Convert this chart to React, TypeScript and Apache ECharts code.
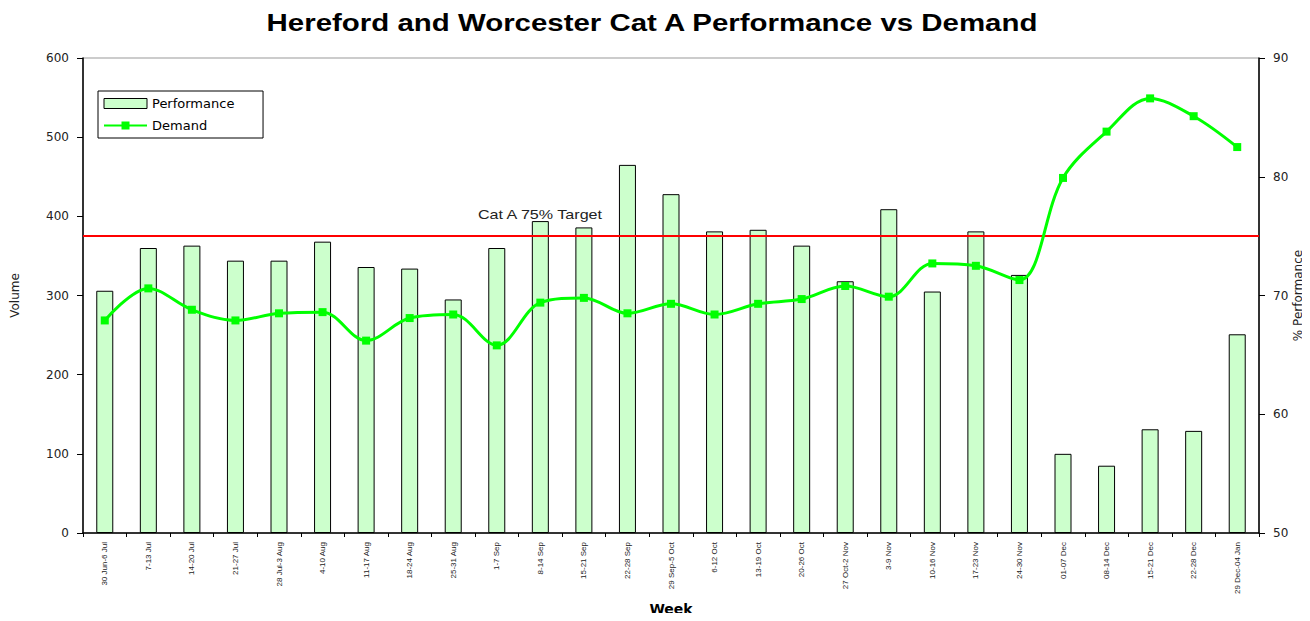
import React, { useEffect, useRef } from "react";
import * as echarts from "echarts";

const weeks = [
  "30 Jun-6 Jul", "7-13 Jul", "14-20 Jul", "21-27 Jul", "28 Jul-3 Aug", "4-10 Aug",
  "11-17 Aug", "18-24 Aug", "25-31 Aug", "1-7 Sep", "8-14 Sep", "15-21 Sep",
  "22-28 Sep", "29 Sep-5 Oct", "6-12 Oct", "13-19 Oct", "20-26 Oct", "27 Oct-2 Nov",
  "3-9 Nov", "10-16 Nov", "17-23 Nov", "24-30 Nov", "01-07 Dec", "08-14 Dec",
  "15-21 Dec", "22-28 Dec", "29 Dec-04 Jan",
];

const performance = [
  306, 360, 363, 344, 344, 368, 336, 334, 295, 360, 394, 386, 465, 428, 381, 383,
  363, 318, 409, 305, 381, 326, 100, 85, 131, 129, 251,
];

const demand = [
  67.9, 70.6, 68.8, 67.9, 68.5, 68.6, 66.2, 68.1, 68.4, 65.8, 69.4, 69.8, 68.5, 69.3,
  68.4, 69.3, 69.7, 70.8, 69.9, 72.7, 72.5, 71.3, 79.9, 83.8, 86.6, 85.1, 82.5,
];

const target = 75;
const titleText = "Hereford and Worcester Cat A Performance vs Demand";
const targetLabel = "Cat A 75% Target";

export default function App() {
  const ref = useRef<HTMLDivElement>(null);
  useEffect(() => {
    if (!ref.current) return;
    const chart = echarts.init(ref.current, undefined, { renderer: "svg" });
    const font = "Liberation Sans, Arial, sans-serif";
    const wide = "DejaVu Sans, sans-serif";
    chart.setOption({
      animation: false,
      textStyle: { fontFamily: font },
      legend: {
        left: 98,
        top: 91,
        orient: "vertical",
        padding: [6, 8, 6, 5],
        itemGap: 9,
        itemWidth: 43,
        itemHeight: 10,
        backgroundColor: "#fff",
        borderColor: "#000",
        borderWidth: 1,
        borderRadius: 0,
        formatter: (name: string) => name + "     ",
        textStyle: { fontSize: 13, color: "#000", fontFamily: wide },
        data: [
          { name: "Performance", icon: "rect", itemStyle: { borderWidth: 1, borderColor: "#000", color: "#ccffcc" } },
          { name: "Demand" },
        ],
      },
      grid: {
        left: 83,
        right: 1310 - 1259,
        top: 58,
        bottom: 621 - 533,
        containLabel: false,
        outerBoundsMode: "none",
        show: true,
        borderColor: "#999",
        borderWidth: 1,
      },
      xAxis: {
        type: "category",
        data: weeks,
        name: "Week",
        nameLocation: "middle",
        nameGap: 69,
        nameMoveOverlap: false,
        nameTextStyle: { fontSize: 14, fontWeight: "bold", color: "#000", fontFamily: wide },
        axisLine: { lineStyle: { color: "#000", width: 1.5 } },
        axisTick: { show: true, length: 4, lineStyle: { color: "#000" } },
        axisLabel: { rotate: 90, fontSize: 8, color: "#222", margin: 9, interval: 0 },
      },
      yAxis: [
        {
          type: "value",
          min: 0,
          max: 600,
          interval: 100,
          name: "Volume",
          nameLocation: "middle",
          nameGap: 62,
          nameMoveOverlap: false,
          nameRotate: 90,
          nameTextStyle: { fontSize: 12, color: "#222", fontFamily: wide },
          axisLine: { show: true, lineStyle: { color: "#000", width: 1.5 } },
          axisTick: { show: true, length: 6, lineStyle: { color: "#000" } },
          axisLabel: { fontSize: 12, color: "#222", margin: 14, fontFamily: wide },
          splitLine: { show: false },
        },
        {
          type: "value",
          min: 50,
          max: 90,
          interval: 10,
          name: "% Performance",
          nameLocation: "middle",
          nameGap: 33,
          nameMoveOverlap: false,
          nameRotate: 90,
          nameTextStyle: { fontSize: 12, color: "#222", fontFamily: wide },
          axisLine: { show: true, lineStyle: { color: "#000", width: 1.5 } },
          axisTick: { show: true, length: 6, lineStyle: { color: "#000" } },
          axisLabel: { fontSize: 12, color: "#222", margin: 14, fontFamily: wide },
          splitLine: { show: false },
        },
      ],
      series: [
        {
          name: "Performance",
          type: "bar",
          yAxisIndex: 0,
          data: performance,
          barWidth: 17,
          itemStyle: { color: "#ccffcc", borderColor: "#000", borderWidth: 1 },
        },
        {
          name: "Demand",
          type: "line",
          yAxisIndex: 1,
          data: demand,
          smooth: 0.35,
          symbol: "rect",
          symbolSize: 8,
          lineStyle: { color: "#00ff00", width: 3 },
          itemStyle: { color: "#00ff00" },
          z: 5,
          markLine: {
            silent: true,
            symbol: "none",
            lineStyle: { color: "#ff0000", width: 2, type: "solid" },
            label: { show: false },
            data: [{ yAxis: target }],
          },
        },
      ],
      graphic: [
        {
          type: "text",
          x: 652,
          y: 23,
          scaleX: 1.28,
          style: {
            text: titleText,
            fontSize: 23,
            fontWeight: "bold",
            fill: "#000",
            fontFamily: font,
            textAlign: "center",
            textVerticalAlign: "middle",
          },
        },
        {
          type: "text",
          x: 540,
          y: 215,
          scaleX: 1.24,
          style: {
            text: targetLabel,
            fontSize: 13,
            fill: "#222",
            fontFamily: font,
            textAlign: "center",
            textVerticalAlign: "middle",
          },
        },
      ],
    });
    return () => chart.dispose();
  }, []);
  return <div ref={ref} style={{ width: 1310, height: 621, margin: -8 }} />;
}
